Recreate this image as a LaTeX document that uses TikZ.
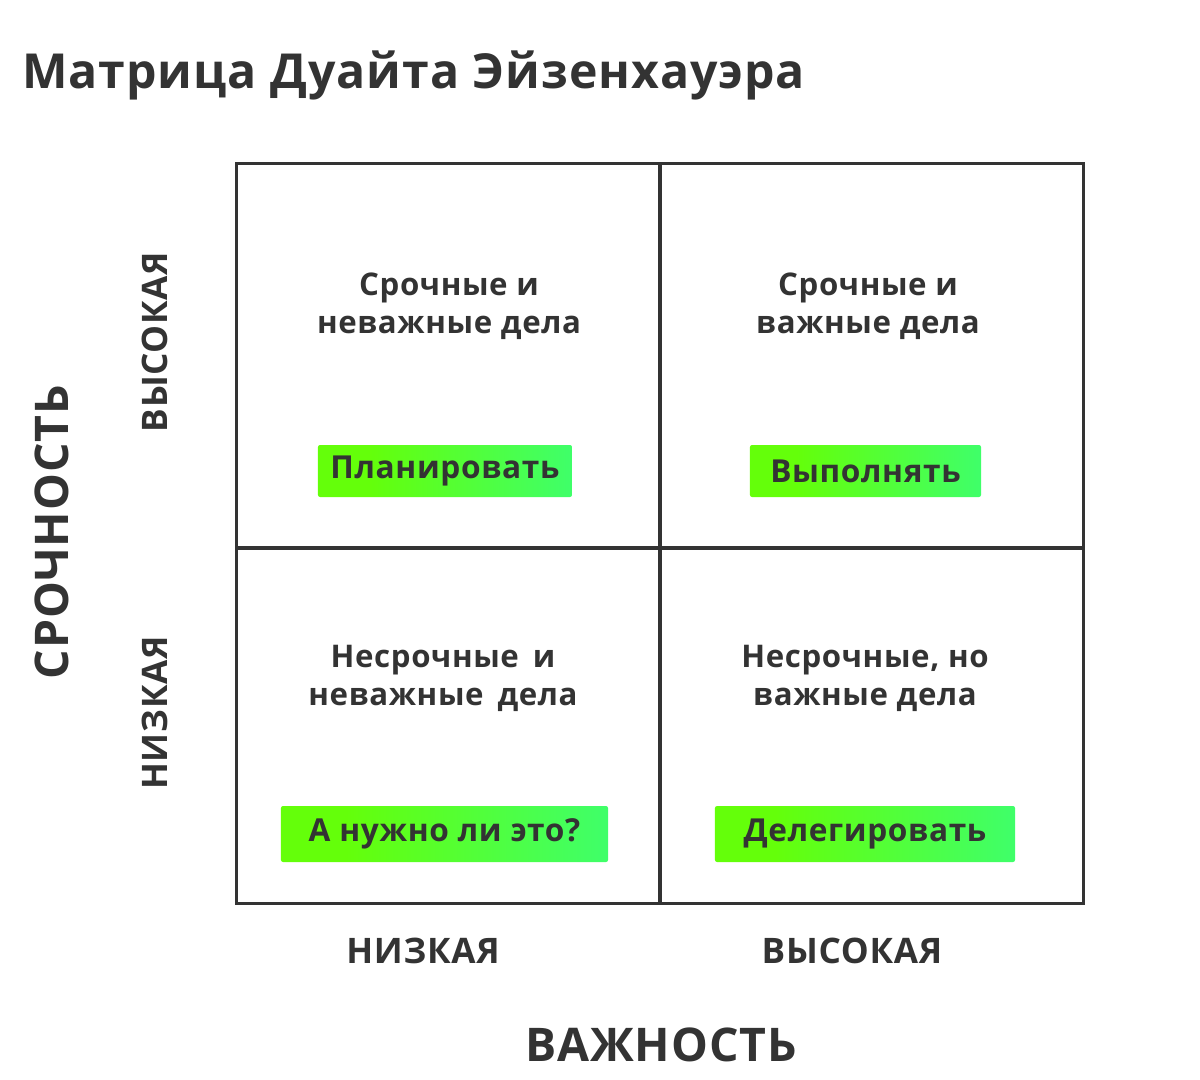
\documentclass[tikz,border=0pt]{standalone}
\usepackage{fontspec}
\setmainfont{Open Sans}[LetterSpace=2]
\definecolor{ink}{HTML}{333333}
\definecolor{lime}{RGB}{100,255,10}
\definecolor{aqua}{RGB}{40,255,165}
\pgfdeclarehorizontalshading{limeaqua}{100bp}{color(0bp)=(lime); color(35bp)=(lime); color(100bp)=(aqua)}
\begin{document}
\begin{tikzpicture}[x=0.025cm,y=-0.025cm,
    cell/.style={font=\bfseries\fontsize{22.2}{27}\selectfont, text=ink, align=center},
    btn/.style={shade, shading=limeaqua, rounded corners=1.5pt, inner sep=0pt,
        font=\bfseries\fontsize{22.5}{26}\selectfont, text=ink},
    level/.style={font=\bfseries\fontsize{25}{28}\selectfont, text=ink},
    axis/.style={font=\bfseries\fontsize{33}{38}\selectfont, text=ink}]
    \useasboundingbox (0,0) rectangle (1200,1079);
    % title
    \node[anchor=base west, inner sep=0pt, font=\bfseries\fontsize{34.3}{40}\selectfont, text=ink] (title) at (22,88) {Матрица Дуайта Эйзенхауэра};
    % grid
    \coordinate (nw) at (236.5,163.5);
    \coordinate (se) at (1083.5,903.5);
    \draw[ink, line width=2.2pt] (nw) rectangle (se);
    \draw[ink, line width=2.2pt] (660,163.5) -- (660,903.5);
    \draw[ink, line width=2.2pt] (236.5,548) -- (1083.5,548);
    % quadrants
    \node[cell] (urgentlow) at (449,306) {Срочные и\\неважные дела};
    \node[cell] (urgenthigh) at (868,306) {Срочные и\\важные дела};
    \node[cell] (calmlow) at (443,678) {Несрочные\, и\\неважные\, дела};
    \node[cell] (calmhigh) at (865,678) {Несрочные, но\\важные дела};
    % buttons
    \node[btn, minimum width=6.35cm, minimum height=1.3cm] (plan) at (445,471) {Планировать};
    \node[btn, minimum width=5.775cm, minimum height=1.3cm] (do) at (865.5,471) {Выполнять};
    \node[btn, minimum width=8.175cm, minimum height=1.4cm] (drop) at (444.5,834) {А нужно ли это?};
    \node[btn, minimum width=7.5cm, minimum height=1.4cm] (delegate) at (865,834) {Делегировать};
    % axes
    \node[level] (xlow) at (423,951) {НИЗКАЯ};
    \node[level] (xhigh) at (852,951) {ВЫСОКАЯ};
    \node[axis] (xaxis) at (661,1045) {ВАЖНОСТЬ};
    \node[level, rotate=90] (ylow) at (155,713) {НИЗКАЯ};
    \node[level, rotate=90] (yhigh) at (155,342) {ВЫСОКАЯ};
    \node[axis, rotate=90] (yaxis) at (52,532) {СРОЧНОСТЬ};
\end{tikzpicture}
\end{document}
